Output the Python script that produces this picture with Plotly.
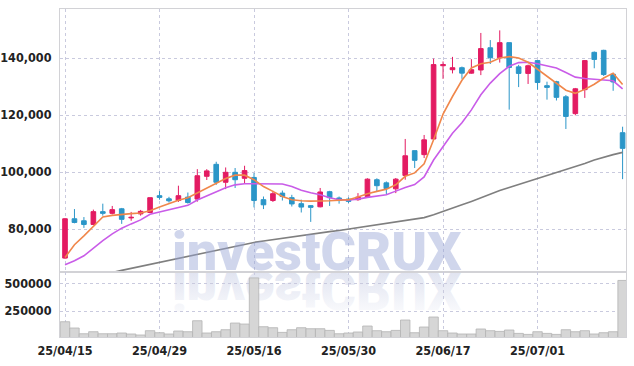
import plotly.graph_objects as go
from plotly.subplots import make_subplots
import urllib.parse

dates = ["25/04/15","25/04/16","25/04/17","25/04/18","25/04/21","25/04/22","25/04/23","25/04/24","25/04/25","25/04/28",
         "25/04/29","25/04/30","25/05/02","25/05/07","25/05/08","25/05/09","25/05/12","25/05/13","25/05/14","25/05/15",
         "25/05/16","25/05/19","25/05/20","25/05/21","25/05/22","25/05/23","25/05/26","25/05/27","25/05/28","25/05/29",
         "25/05/30","25/06/02","25/06/04","25/06/05","25/06/09","25/06/10","25/06/11","25/06/12","25/06/13","25/06/16",
         "25/06/17","25/06/18","25/06/19","25/06/20","25/06/23","25/06/24","25/06/25","25/06/26","25/06/27","25/06/30",
         "25/07/01","25/07/02","25/07/03","25/07/04","25/07/07","25/07/08","25/07/09","25/07/10","25/07/11","25/07/14"]

opens = [69800,83600,82900,81600,86100,85500,87100,83900,85300,85800,
         91700,90600,90000,91200,90500,98500,102700,96400,99900,97800,
         98100,90300,90000,92600,91000,88900,88200,87800,93100,90900,
         90500,90300,91400,97300,96200,94100,98800,107500,106100,111600,
         137300,135900,136600,134700,135800,143600,140100,145400,136900,134600,
         139100,130300,131700,126400,120500,128900,142000,142700,134300,113800]
highs = [83800,87000,84200,86800,88900,88100,87400,86000,86700,91000,
         93300,91300,95200,92800,101000,101000,103600,101600,101400,102200,
         99600,91400,93400,93500,92000,90300,88400,94400,93400,91400,
         91100,92600,97800,97800,96700,97900,111600,107500,113000,139800,
         138800,140400,137000,139600,148800,146300,149700,145400,137600,137700,
         139100,131700,132000,127000,129500,139300,142300,142900,134700,115900]
lows = [69600,82000,80400,81400,84700,85100,81800,82900,84700,85600,
        90300,89300,89500,88900,89600,97200,95500,94000,94400,95800,
        87600,87000,89500,90000,87900,85800,82500,87600,88100,88900,
        89100,89900,91200,93200,92000,92600,97300,101400,104900,111500,
        132700,134600,132700,134500,134000,137900,138400,121900,129800,130900,
        128900,125400,125100,115100,119900,126000,136400,133700,128500,97500]
closes = [83600,82300,81600,86100,85500,86800,83400,84100,86200,91000,
          91100,89900,91700,89300,98700,100400,96400,99900,97300,100500,
          90000,88500,92400,91400,88800,87700,87600,93000,91000,90000,
          89700,91200,97500,95200,94200,97500,105700,104100,111300,137700,
          137700,136600,134700,135900,143300,140100,145400,136700,134600,137300,
          131400,129700,126200,119500,129200,139100,139500,134200,131600,108300]

ma5 = [70000,74500,77600,80900,84200,84800,85200,85400,85600,86400,
       87700,89000,90100,91000,92700,94400,96100,97700,98900,98900,
       97300,94900,93200,91400,90300,89900,89800,89800,89900,90100,
       90300,91200,92400,93200,94000,95500,98500,99700,102900,111300,
       120300,126500,132200,136500,138000,138500,140000,140500,140000,138500,
       136000,133400,131000,128700,127600,129000,130800,133000,134700,130700]
ma20 = [67500,68900,70600,73300,75900,78300,80300,81800,83200,85200,
        86000,86800,87700,88300,90200,91700,93000,94500,95500,95900,
        95900,95900,95900,95800,94900,93600,92700,92000,91000,90300,
        90200,90500,91100,91600,92000,93300,94600,95600,98300,104200,
        109000,113600,117300,121800,127100,131200,134500,137100,138400,138500,
        138000,137300,136500,134900,133300,132800,132600,132400,132000,129200]
ma60 = [None,None,None,None,64200,64700,65500,66200,66900,67600,
        68300,69000,69700,70400,71100,71900,72700,73400,74000,74700,
        75300,75800,76300,76700,77200,77700,78200,78600,79100,79500,
        80000,80500,81000,81500,82000,82500,83000,83500,84000,85000,
        86100,87300,88500,89700,91000,92300,93500,94600,95700,96800,
        97800,98800,99800,100800,101900,103000,104200,105200,106100,106900]
volume = [153000,96000,44000,62500,44000,44000,50700,41700,32600,71600,
          53400,41700,68800,62500,162000,50700,62500,80600,141000,132000,
          550000,107800,98700,56200,80600,98700,89700,89700,74300,44000,
          50700,59800,114000,71600,62500,74300,168500,53400,105000,195600,
          71600,50700,41700,41700,87000,71600,65200,77900,47100,38000,
          62500,47100,38000,80600,62500,71600,41700,53400,62500,527000]

price_ticks = [80000, 100000, 120000, 140000]
price_tick_text = ["80,000", "100,000", "120,000", "140,000"]
vol_ticks = [250000, 500000]
vol_tick_text = ["250000", "500000"]
date_ticks = ["25/04/15", "25/04/29", "25/05/16", "25/05/30", "25/06/17", "25/07/01"]
watermark = "investCRUX"

RED = "#e31b62"
BLUE = "#2b96c8"
GRID = "#c9cade"
AXL = "#d2d2d6"
FONT = "Liberation Sans Narrow, DejaVu Sans Condensed, Liberation Sans, Arial, sans-serif"
TF = dict(family=FONT, size=12.5, color="#222222", weight="bold")
WMF = "Roboto, Liberation Sans, Arial, sans-serif"

fig = make_subplots(rows=2, cols=1, shared_xaxes=True, vertical_spacing=0,
                    row_heights=[0.802, 0.198])

fig.add_trace(go.Scatter(x=dates, y=ma60, mode="lines", line=dict(color="#7f7f7f", width=1.6),
                         hoverinfo="skip", connectgaps=False), row=1, col=1)
fig.add_trace(go.Candlestick(x=dates, open=opens, high=highs, low=lows, close=closes,
                             increasing=dict(line=dict(color=RED, width=1), fillcolor=RED),
                             decreasing=dict(line=dict(color=BLUE, width=1), fillcolor=BLUE),
                             whiskerwidth=0, hoverinfo="skip"), row=1, col=1)
fig.add_trace(go.Scatter(x=dates, y=ma20, mode="lines", line=dict(color="#c95ce8", width=1.6),
                         hoverinfo="skip"), row=1, col=1)
fig.add_trace(go.Scatter(x=dates, y=ma5, mode="lines", line=dict(color="#f0874b", width=1.6),
                         hoverinfo="skip"), row=1, col=1)
fig.add_trace(go.Bar(x=dates, y=volume, marker=dict(color="#d6d6d6", line=dict(color="#b4b4b4", width=0.8)),
                     hoverinfo="skip"), row=2, col=1)

xr = [-0.53, 59.36]
common_x = dict(type="category", range=xr, showgrid=True, gridcolor=GRID, griddash="dot", gridwidth=1,
                tickmode="array", tickvals=date_ticks, showline=True, linecolor=AXL, mirror=True,
                zeroline=False, automargin=False)
fig.update_xaxes(**common_x)
fig.update_xaxes(showticklabels=False, rangeslider=dict(visible=False), row=1, col=1)
fig.update_xaxes(ticktext=date_ticks, ticks="outside", ticklen=2, tickcolor="rgba(0,0,0,0)",
                 tickfont=TF, row=2, col=1)

fig.update_yaxes(range=[64900, 157200], tickmode="array", tickvals=price_ticks, ticktext=price_tick_text,
                 showgrid=True, gridcolor=GRID, griddash="dot", showline=True, linecolor=AXL, mirror=True,
                 zeroline=False, ticks="outside", ticklen=5, tickcolor="rgba(0,0,0,0)", automargin=False,
                 tickfont=TF, row=1, col=1)
fig.update_yaxes(range=[14500, 603000], tickmode="array", tickvals=vol_ticks, ticktext=vol_tick_text,
                 showgrid=True, gridcolor=GRID, griddash="dot", showline=True, linecolor=AXL, mirror=True,
                 zeroline=False, ticks="outside", ticklen=5, tickcolor="rgba(0,0,0,0)", automargin=False,
                 tickfont=TF, row=2, col=1)

# watermark reflection (decorative, mirrored)
svg = ("<svg xmlns='http://www.w3.org/2000/svg' width='310' height='50'>"
       "<defs><linearGradient id='g' x1='0' y1='0' x2='0' y2='1'>"
       "<stop offset='0' stop-color='#cfd4e8' stop-opacity='0'/>"
       "<stop offset='1' stop-color='#cfd4e8' stop-opacity='0.8'/>"
       "</linearGradient></defs>"
       "<text x='0' y='0' transform='scale(1,-1)' font-family='Roboto, Liberation Sans, Arial, sans-serif' "
       "font-weight='900' font-size='54' fill='url(#g)'>" + watermark + "</text></svg>")
src = "data:image/svg+xml;charset=utf-8," + urllib.parse.quote(svg)
W, H = 566.0, 328.0
fig.add_layout_image(dict(source=src, xref="paper", yref="paper",
                          x=(172 - 60) / W, y=(337.3 - 272.3) / H,
                          sizex=310 / W, sizey=50 / H, xanchor="left", yanchor="top",
                          sizing="stretch", layer="below"))

fig.add_annotation(text=watermark, xref="paper", yref="paper", x=(170 - 60) / W, y=(337.3 - 252.0) / H,
                   xanchor="left", yanchor="middle", showarrow=False,
                   font=dict(family=WMF, size=54, color="rgba(150,163,212,0.45)", weight=900))

fig.update_layout(width=634, height=366, margin=dict(l=60, r=8, t=9, b=29, autoexpand=False),
                  paper_bgcolor="white", plot_bgcolor="white", showlegend=False,
                  bargap=0, hovermode=False)

fig.write_html("out.html", config={"displayModeBar": False, "staticPlot": True},
               post_script="document.body.style.margin='0';document.body.style.padding='0';")
